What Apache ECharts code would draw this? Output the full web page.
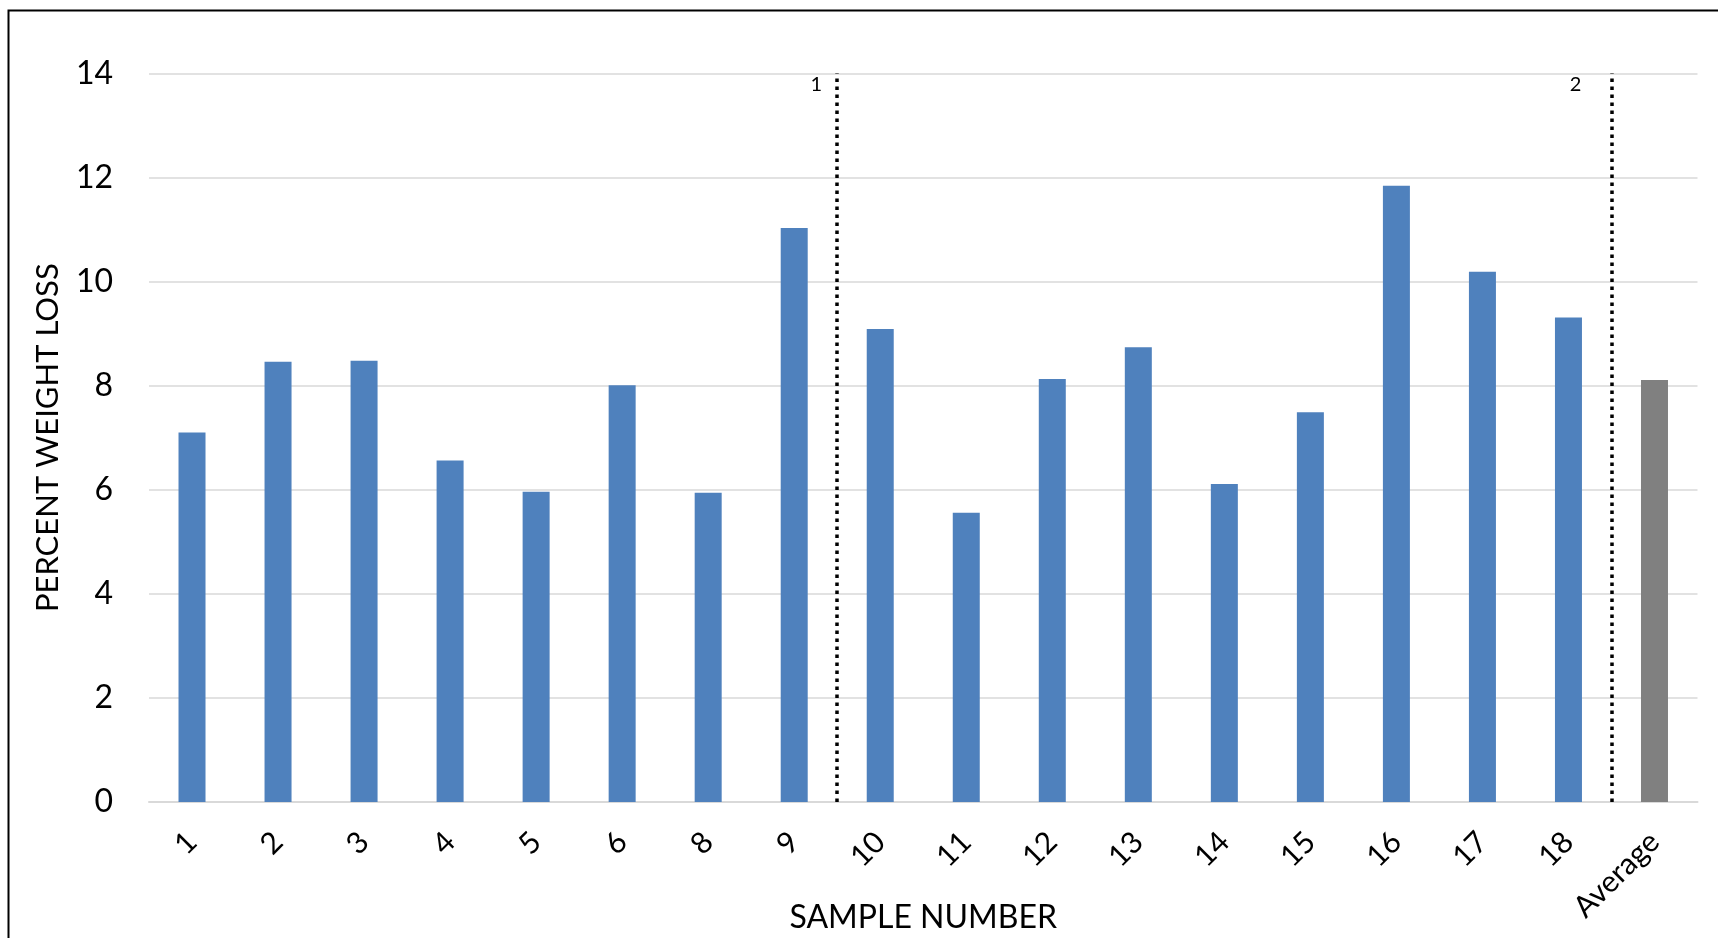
<!DOCTYPE html>
<html>
<head>
<meta charset="utf-8">
<script src="https://cdn.jsdelivr.net/npm/echarts@6/dist/echarts.min.js"></script>
<style>
  html, body { margin: 0; padding: 0; background: #fff; }
  #chart { width: 1718px; height: 938px; }
</style>
</head>
<body>
<div id="chart"></div>
<script>
// ---- data ----
const categories = ['1', '2', '3', '4', '5', '6', '8', '9', '10', '11', '12', '13', '14', '15', '16', '17', '18', 'Average'];
const weightLoss = [7.10, 8.46, 8.48, 6.56, 5.96, 8.01, 5.94, 11.03, 9.09, 5.56, 8.13, 8.74, 6.11, 7.49, 11.84, 10.19, 9.31, 8.11];
const yTicks = { min: 0, max: 14, interval: 2 };
const dividers = [ { after: '9', label: '1' }, { after: '18', label: '2' } ];
const yAxisTitle = 'PERCENT WEIGHT LOSS';
const xAxisTitle = 'SAMPLE NUMBER';

// ---- styles ----
const BLUE = '#4F81BD';
const GRAY = '#808080';
const FONT = 'Lato, "Open Sans", sans-serif';
const dividerLabelOffsets = [[-21, 11], [-36, 11]];

const chart = echarts.init(document.getElementById('chart'), null, { renderer: 'canvas' });

const barData = categories.map((c, i) => ({
  value: weightLoss[i],
  itemStyle: { color: c === 'Average' ? GRAY : BLUE }
}));

const dividerPos = dividers.map(d => categories.indexOf(d.after) + 1);

const option = {
  backgroundColor: '#fff',
  animation: false,
  textStyle: { fontFamily: FONT },
  grid: { left: 149, right: 20.5, top: 73.4, bottom: 136, containLabel: false, outerBoundsMode: 'none' },
  xAxis: [
    {
      type: 'category',
      data: categories,
      axisTick: { show: false },
      axisLine: { lineStyle: { color: '#D9D9D9', width: 2 } },
      axisLabel: { rotate: 45, fontSize: 30, color: '#000', margin: 35, fontFamily: FONT, interval: 0 },
      name: xAxisTitle,
      nameLocation: 'middle',
      nameGap: 100,
      nameMoveOverlap: false,
      nameTextStyle: { fontSize: 32, color: '#000', fontFamily: FONT }
    },
    {
      type: 'value',
      min: 0,
      max: categories.length,
      show: false
    }
  ],
  yAxis: {
    type: 'value',
    min: yTicks.min,
    max: yTicks.max,
    interval: yTicks.interval,
    axisLine: { show: false },
    axisTick: { show: false },
    splitLine: { lineStyle: { color: '#D9D9D9', width: 1.5 } },
    axisLabel: { fontSize: 32, color: '#000', margin: 36, fontFamily: FONT },
    name: yAxisTitle,
    nameLocation: 'middle',
    nameRotate: 90,
    nameGap: 86,
    nameMoveOverlap: false,
    nameTextStyle: { fontSize: 31, color: '#000', fontFamily: FONT }
  },
  series: [
    {
      type: 'bar',
      data: barData,
      barWidth: 27,
      xAxisIndex: 0
    },
    {
      type: 'line',
      xAxisIndex: 1,
      yAxisIndex: 0,
      data: [],
      silent: true,
      markLine: {
        silent: true,
        symbol: 'none',
        label: { show: false },
        lineStyle: { color: '#000', width: 3.5, type: [3.5, 4.5] },
        data: dividerPos.map(p => [ { coord: [p, yTicks.min] }, { coord: [p, yTicks.max] } ])
      },
      markPoint: {
        silent: true,
        symbol: 'circle',
        symbolSize: 0,
        data: dividerPos.map((p, i) => ({
          name: dividers[i].label,
          coord: [p, yTicks.max],
          label: { show: true, formatter: '{b}', color: '#000', fontSize: 20, fontFamily: FONT, offset: dividerLabelOffsets[i] }
        }))
      }
    }
  ],
  graphic: [
    {
      type: 'rect',
      silent: true,
      shape: { x: 8.5, y: 10.5, width: 1760, height: 1000 },
      style: { fill: 'none', stroke: '#000', lineWidth: 2 }
    }
  ]
};

chart.setOption(option);
</script>
</body>
</html>
